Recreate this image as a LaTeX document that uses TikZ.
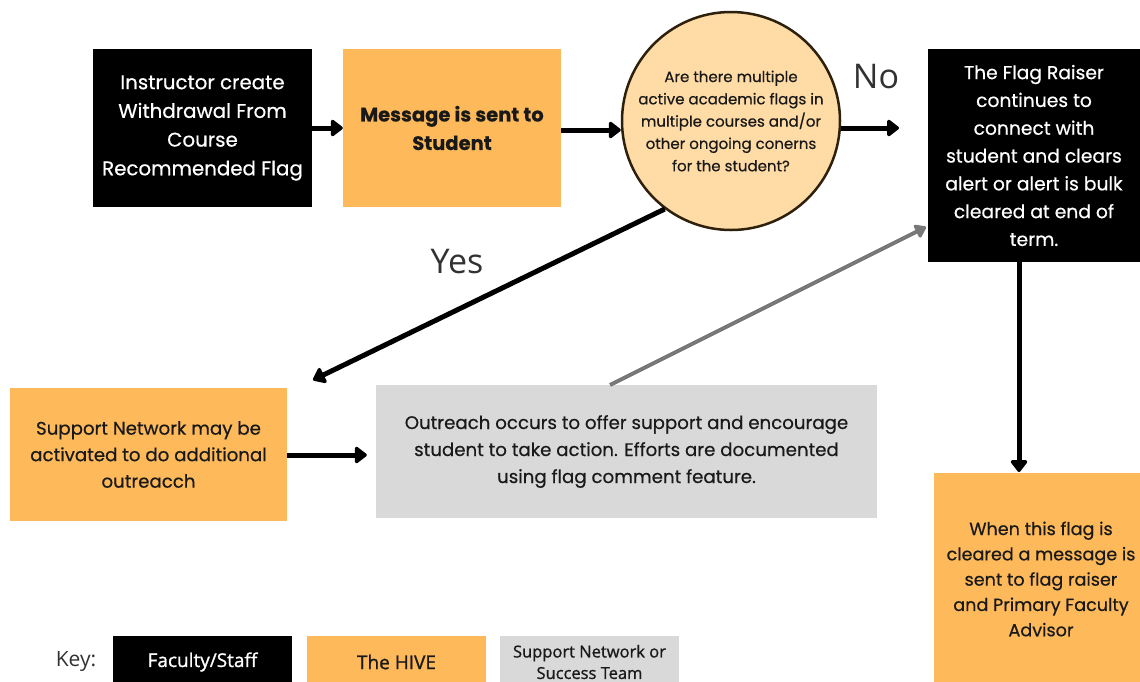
\documentclass[tikz,border=0pt]{standalone}
\usepackage{fontspec}
\setmainfont{Poppins}[FakeBold=0.5]
\newfontfamily\lightfont{Open Sans}
\newfontfamily\keyfont{Open Sans}[FakeBold=1]
\usetikzlibrary{arrows.meta,calc}
\definecolor{hive}{RGB}{253,185,90}
\definecolor{circfill}{RGB}{255,219,166}
\definecolor{circline}{RGB}{45,32,12}
\definecolor{sng}{RGB}{217,217,217}
\definecolor{arrgray}{RGB}{120,120,120}
\definecolor{txt}{RGB}{25,25,25}
\definecolor{lbl}{RGB}{50,50,50}
\begin{document}
\begin{tikzpicture}[x=1pt,y=-1pt,
  box/.style={rectangle, inner sep=0pt, align=center},
  fac/.style={box, fill=black, text=white},
  hv/.style={box, fill=hive, text=txt},
  sn/.style={box, fill=sng, text=txt},
  blk/.style={line width=5pt, draw=black, -{Triangle[round, length=13pt, width=19pt]}},
  gry/.style={line width=4pt, draw=arrgray, -{Triangle[round, length=12pt, width=16pt]}},
  lab/.style={font=\lightfont\fontsize{34}{40}\selectfont, text=lbl}
]
\useasboundingbox (0,0) rectangle (1140,681);
\clip (0,0) rectangle (1140,681);

% top row
\node[fac, minimum width=219pt, minimum height=158pt, font=\fontsize{19.8}{28.7}\selectfont]
  (b1) at (202.5,128) {Instructor create\\Withdrawal From\\Course\\Recommended Flag};
\node[hv, minimum width=218pt, minimum height=158pt, font=\bfseries\fontsize{19.5}{28.5}\selectfont]
  (b2) at (452,128) {Message is sent to\\Student};
\node[circle, draw=circline, line width=2.5pt, fill=circfill, minimum size=218pt, inner sep=0pt,
  align=center, text=txt, font=\fontsize{15}{22.3}\selectfont]
  (c) at (731,121) {Are there multiple\\active academic flags in\\multiple courses and/or\\other ongoing conerns\\for the student?};
\node[fac, minimum width=212pt, minimum height=213pt, font=\fontsize{18.7}{27.8}\selectfont]
  (r) at (1034,155.5) {\raisebox{0pt}[0pt][0pt]{}The Flag Raiser\\continues to\\connect with\\student and clears\\alert or alert is bulk\\cleared at end of\\term.};

% middle row
\node[hv, minimum width=277pt, minimum height=133pt, font=\fontsize{18.2}{26.5}\selectfont]
  (o1) at (148.5,454.5) {Support Network may be\\activated to do additional\\outreacch};
\node[sn, minimum width=501pt, minimum height=133pt, font=\fontsize{18.2}{27}\selectfont]
  (g) at (626.5,451.5) {Outreach occurs to offer support and encourage\\student to take action. Efforts are documented\\using flag comment feature.};

% bottom right
\node[hv, minimum width=214pt, minimum height=212pt, font=\fontsize{17.6}{25.3}\selectfont]
  (o2) at (1041,579) {When this flag is\\cleared a message is\\sent to flag raiser\\and Primary Faculty\\Advisor};

% labels
\node[lab] (no) at (876,77) {No};
\node[lab] (yes) at (457,262) {Yes};

% key
\node[font=\lightfont\fontsize{21}{24}\selectfont, text=lbl] (key) at (76,662) {Key:};
\node[fac, minimum width=179pt, minimum height=52pt, font=\keyfont\fontsize{19}{20}\selectfont]
  (k1) at (202.5,662) {Faculty/Staff};
\node[hv, minimum width=179pt, minimum height=52pt, font=\keyfont\fontsize{19}{20}\selectfont]
  (k2) at (396.5,662) {The HIVE};
\node[sn, minimum width=179pt, minimum height=52pt, font=\keyfont\fontsize{16.5}{21.5}\selectfont]
  (k3) at (589.5,662) {Support Network or\\Success Team};

% free ends
\coordinate (noend) at (899,128);
\coordinate (yesend) at (313,380);
\coordinate (gstart) at (610,385);
\coordinate (gend) at (926,227);
\coordinate (dstart) at (1019,262);
\coordinate (dend) at (1019,472);

% connectors
\draw[blk] (b1.east) -- (b2.west);
\draw[blk] (b2.east |- 0,130) -- (c.west |- 0,130);
\draw[blk] (c.east |- noend) -- (noend);
\draw[blk] (c.233) -- (yesend);
\draw[gry] (gstart) -- (gend);
\draw[blk] (dstart) -- (dend);
\draw[blk, shorten >=9pt] (o1.east |- 0,455) -- (g.west |- 0,455);
\end{tikzpicture}
\end{document}
